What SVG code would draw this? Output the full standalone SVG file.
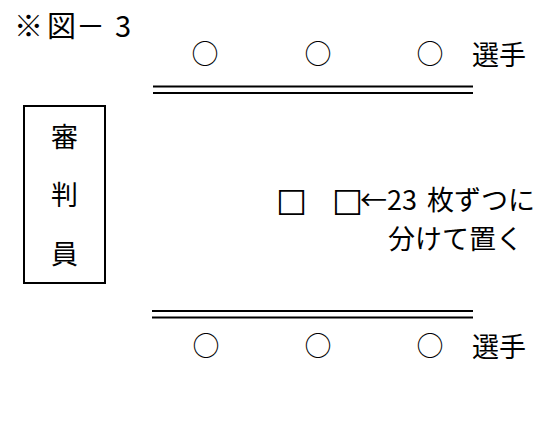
<svg xmlns="http://www.w3.org/2000/svg" width="539" height="421" viewBox="0 0 539 421">
<style>
  text { font-family: "Noto Sans CJK JP", "Noto Sans", sans-serif; font-size: 27px; fill: #000; }
  .mark { text-anchor: middle; }
  .sym { font-family: "DejaVu Sans", sans-serif; font-size: 33px; }
  .rail { stroke: #000; stroke-width: 2.2; }
  .box { fill: none; stroke: #000; stroke-width: 2; }
</style>
<rect width="539" height="421" fill="#fff"/>
<g id="title"><text x="14 47 76 115" y="37" style="font-size:29px">※図－3</text></g>
<g id="players-top">
  <text class="mark" x="205" y="64">○</text>
  <text class="mark" x="318" y="64">○</text>
  <text class="mark" x="430" y="64">○</text>
  <text x="472" y="65">選手</text>
</g>
<g id="rail-top">
  <line class="rail" x1="153" y1="86.5" x2="473" y2="86.5"/>
  <line class="rail" x1="153" y1="93" x2="473" y2="93"/>
</g>
<g id="judge">
  <rect class="box" x="24" y="106" width="81" height="177"/>
  <text class="mark" x="64.5" y="147">審</text>
  <text class="mark" x="64.5" y="205">判</text>
  <text class="mark" x="64.5" y="264">員</text>
</g>
<g id="cards">
  <text y="211"><tspan class="sym" x="276">□</tspan><tspan class="sym" x="332">□</tspan><tspan x="360" y="210">←23</tspan><tspan x="427" y="210">枚ずつに</tspan></text>
  <text x="388" y="249">分けて置く</text>
</g>
<g id="rail-bottom">
  <line class="rail" x1="152" y1="311" x2="473" y2="311"/>
  <line class="rail" x1="152" y1="317.5" x2="473" y2="317.5"/>
</g>
<g id="players-bottom">
  <text class="mark" x="206" y="356">○</text>
  <text class="mark" x="318" y="356">○</text>
  <text class="mark" x="430" y="356">○</text>
  <text x="472" y="357">選手</text>
</g>
</svg>
